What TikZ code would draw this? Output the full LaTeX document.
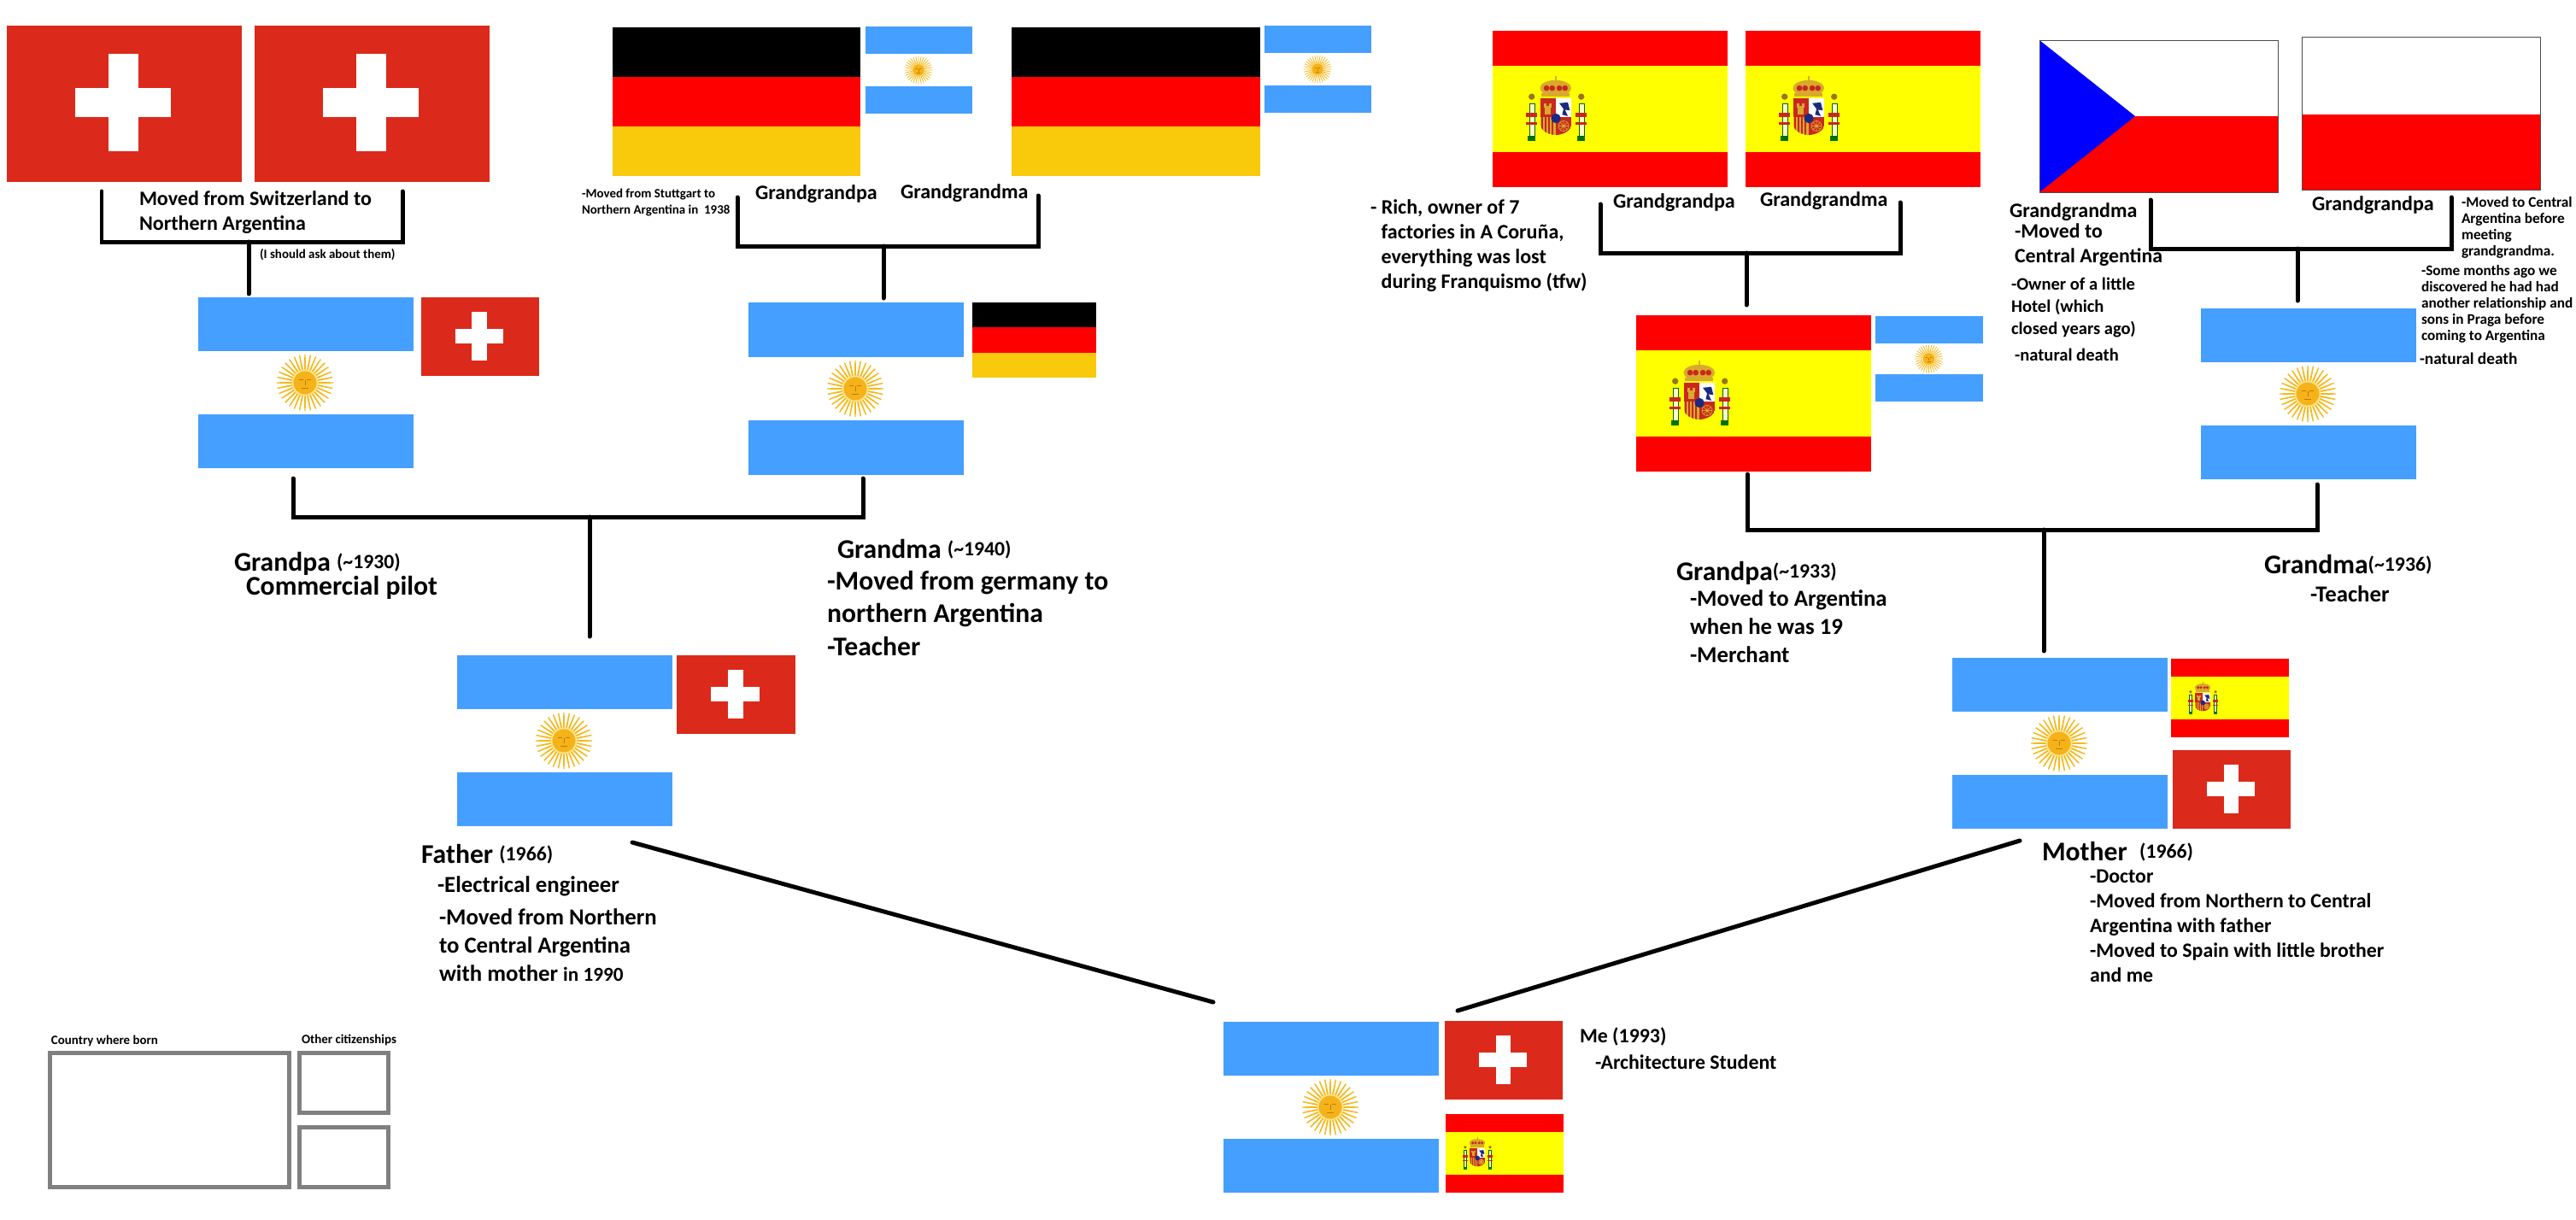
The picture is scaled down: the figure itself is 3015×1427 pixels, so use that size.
\documentclass[tikz,border=0pt]{standalone}
\usepackage{fontspec}
\setmainfont{Carlito}
\definecolor{swissred}{HTML}{DB2A1B}
\definecolor{argblue}{HTML}{459FFF}
\definecolor{sungold}{HTML}{F5B81C}
\definecolor{sunpale}{HTML}{FBE38A}
\definecolor{sunline}{HTML}{B97C0E}
\definecolor{gergold}{HTML}{F9C90B}
\definecolor{purered}{HTML}{FF0000}
\definecolor{pureyellow}{HTML}{FFFF00}
\definecolor{pureblue}{HTML}{0000FF}
\definecolor{armsred}{HTML}{C8281E}
\definecolor{armsgold}{HTML}{D9A92E}
\definecolor{armsblue}{HTML}{1B2A80}
\tikzset{
  flagbox/.style={inner sep=0pt,outer sep=0pt},
  famline/.style={line width=1.42pt,line cap=round,line join=miter},
  keybox/.style={flagbox,draw=gray,line width=1.42pt},
  lbl/.style={anchor=west,inner sep=0pt,outer sep=0pt,align=left,font=\bfseries\fontsize{6.83pt}{8.25pt}\selectfont},
  lblkey/.style={lbl,font=\bfseries\fontsize{4.25pt}{5.2pt}\selectfont},
  lblsm/.style={lbl,font=\bfseries\fontsize{4.9pt}{5.4pt}\selectfont},
  lblnat/.style={lbl,font=\bfseries\fontsize{5.5pt}{6.6pt}\selectfont},
  lblown/.style={lbl,font=\bfseries\fontsize{5.85pt}{7.4pt}\selectfont},
  lblmid/.style={lbl,font=\bfseries\fontsize{6.78pt}{8.25pt}\selectfont},
  lblbig/.style={lbl,font=\bfseries\fontsize{7.62pt}{9.4pt}\selectfont},
  lblhead/.style={lbl,font=\bfseries\fontsize{9pt}{10.95pt}\selectfont},
}
\newcommand\yr[1]{{\fontsize{6.75pt}{8pt}\selectfont\raisebox{.9pt}{#1}}}
\newcommand\flagnode[5]{%
  \pgfmathsetmacro\fw{(#4-#2)*.01}\pgfmathsetmacro\fh{(#5-#3)*.01}%
  \node[flagbox,minimum width=\fw cm,minimum height=\fh cm](#1) at ({(#2+#4)/2},{(#3+#5)/2}){};}
\newcommand\sunat[3]{%
  \begin{scope}[shift={(#1,#2)},scale=#3]
    \foreach \a in {0,11.25,...,349}{\fill[sungold]({\a-4.8}:.38)--({\a-1.2}:1)--({\a+1.2}:1)--({\a+4.8}:.38)--cycle;}
    \fill[sunpale](0,0) circle(.47);
    \fill[sungold!90!orange](0,0) circle(.41);
    \draw[sunline,line width=.2pt](-.2,-.1)--(-.07,-.1)(.07,-.1)--(.2,-.1)(0,-.08)--(0,.1)(-.12,.2)--(.12,.2);
  \end{scope}}
\newcommand\armsat[3]{%
  \begin{scope}[shift={(#1,#2)},scale=#3,shift={(-122,-145)}]
    \foreach \x in {38,212}{
      \fill[green!45!black](\x-14,240) rectangle (\x+14,258);
      \fill[yellow!20!white,draw=green!40!black,line width=.1pt](\x-9,125) rectangle (\x+9,240);
      \fill[armsgold!70!black](\x,102) circle(11);
      \fill[armsred](\x-20,158) rectangle (\x+20,172);
      \fill[armsred](\x-20,190) rectangle (\x+20,200);
    }
    \fill[armsgold](122,72) ellipse(55 and 28);
    \foreach \x in {90,110,135,155}{\fill[armsred](\x,72) circle(10);}
    \fill[armsgold](72,88) rectangle (172,102);
    \fill[armsgold](119,30) rectangle (125,50);
    \begin{scope}
      \clip(68,108)--(178,108)--(178,195) .. controls (178,225) and (145,235) .. (123,237) .. controls (100,235) and (68,225) .. (68,195)--cycle;
      \fill[armsred](68,108) rectangle (123,172);
      \fill[white](123,108) rectangle (178,172);
      \fill[armsgold](68,172) rectangle (123,240);
      \foreach \x in {72,84,96,108}{\fill[armsred](\x,172) rectangle (\x+7,240);}
      \fill[armsred](123,172) rectangle (178,240);
      \fill[armsgold](85,135) rectangle (105,165);
      \fill[armsgold](82,125) rectangle (90,140);
      \fill[armsgold](100,125) rectangle (108,140);
      \fill[armsblue](135,125)--(165,122)--(172,150)--(155,148)--(165,170)--(145,165)--(150,145)--cycle;
      \draw[armsgold,line width=.2pt](150,205) circle(18);
      \draw[armsgold,line width=.2pt](132,205)--(168,205)(150,187)--(150,223)(138,193)--(162,217)(138,217)--(162,193);
    \end{scope}
    \fill[armsblue](123,178) circle(17);
  \end{scope}}
\newcommand\swissflag[5]{\flagnode{#1}{#2}{#3}{#4}{#5}%
  \begin{scope}[shift={(#2,#3)},xscale={#4-#2},yscale={#5-#3}]
    \fill[swissred](0,0) rectangle (1,1);
    \fill[white](.291,.40) rectangle (.699,.586);
    \fill[white](.431,.182) rectangle (.559,.804);
  \end{scope}}
\newcommand\argflag[5]{\flagnode{#1}{#2}{#3}{#4}{#5}%
  \begin{scope}[shift={(#2,#3)},xscale={#4-#2},yscale={#5-#3}]
    \fill[argblue](0,0) rectangle (1,.315);
    \fill[argblue](0,.683) rectangle (1,1);
  \end{scope}
  \sunat{{#2+.496*(#4-#2)}}{{(#3+#5)/2}}{{.131*(#4-#2)}}}
\newcommand\spainflag[5]{\flagnode{#1}{#2}{#3}{#4}{#5}%
  \begin{scope}[shift={(#2,#3)},xscale={#4-#2},yscale={#5-#3}]
    \fill[purered](0,0) rectangle (1,1);
    \fill[pureyellow](0,.225) rectangle (1,.775);
  \end{scope}
  \armsat{{#2+.268*(#4-#2)}}{{(#3+#5)/2}}{{(#4-#2)/825}}}
\newcommand\gerflag[5]{\flagnode{#1}{#2}{#3}{#4}{#5}%
  \begin{scope}[shift={(#2,#3)},xscale={#4-#2},yscale={#5-#3}]
    \fill[black](0,0) rectangle (1,1/3);
    \fill[purered](0,1/3) rectangle (1,2/3);
    \fill[gergold](0,2/3) rectangle (1,1);
  \end{scope}}
\begin{document}
\begin{tikzpicture}[x=.01cm,y=-.01cm]
\useasboundingbox (0,0) rectangle (3015,1427);
% great grandparents
\swissflag{F1}{8}{30}{283}{213}
\swissflag{F2}{298}{30}{573}{213}
\gerflag{F3}{717}{32}{1007}{206}
\argflag{F4}{1013}{31}{1138}{133}
\gerflag{F5}{1184}{32}{1475}{206}
\argflag{F6}{1480}{30}{1605}{132}
\spainflag{F7}{1747}{36}{2022}{219}
\spainflag{F8}{2043}{36}{2318}{219}
% these two have a thin frame
\flagnode{F9}{2387}{47}{2666}{225}
\fill[purered](2387,136) rectangle (2666,225);
\fill[pureblue](2387,47)--(2499,136)--(2387,225)--cycle;
\draw[black!70,line width=.2pt](F9.south west) rectangle (F9.north east);
\flagnode{F10}{2694}{43}{2973}{222}
\fill[purered](2694,134) rectangle (2973,222);
\draw[black!70,line width=.2pt](F10.south west) rectangle (F10.north east);
% grandparents
\argflag{G1}{232}{348}{484}{548}
\swissflag{G2}{493}{348}{631}{440}
\argflag{G3}{876}{354}{1128}{556}
\gerflag{G4}{1138}{354}{1283}{442}
\spainflag{G5}{1915}{369}{2190}{552}
\argflag{G6}{2195}{370}{2321}{470}
\argflag{G7}{2576}{361}{2828}{561}
% parents and me
\argflag{P1}{535}{767}{787}{967}
\swissflag{P2}{792}{767}{931}{859}
\argflag{P3}{2285}{770}{2537}{970}
\spainflag{P4}{2541}{771}{2679}{863}
\swissflag{P5}{2543}{878}{2681}{970}
\argflag{M1}{1432}{1196}{1684}{1396}
\swissflag{M2}{1691}{1195}{1829}{1287}
\spainflag{M3}{1692}{1304}{1830}{1396}

\coordinate(A1) at (119,224);\coordinate(A2) at (119,283);\coordinate(A3) at (471,283);\coordinate(A4) at (471,224);
\coordinate(A5) at (291,283);\coordinate(A6) at (291,344);
\coordinate(B1) at (863,231);\coordinate(B2) at (863,288);\coordinate(B3) at (1215,288);\coordinate(B4) at (1215,229);
\coordinate(B5) at (1034,288);\coordinate(B6) at (1034,349);
\coordinate(C1) at (1873,239);\coordinate(C2) at (1873,296);\coordinate(C3) at (2224,296);\coordinate(C4) at (2224,237);
\coordinate(C5) at (2044,296);\coordinate(C6) at (2044,357);
\coordinate(D1) at (2517,234);\coordinate(D2) at (2517,291);\coordinate(D3) at (2869,291);\coordinate(D4) at (2869,231);
\coordinate(D5) at (2689,291);\coordinate(D6) at (2689,352);
\coordinate(E1) at (343,560);\coordinate(E2) at (343,605);\coordinate(E3) at (1010,605);\coordinate(E4) at (1010,560);
\coordinate(E5) at (690,605);\coordinate(E6) at (690,745);
\coordinate(H1) at (2045,555);\coordinate(H2) at (2045,620);\coordinate(H3) at (2712,620);\coordinate(H4) at (2712,567);
\coordinate(H5) at (2392,620);\coordinate(H6) at (2392,762);
\coordinate(J1) at (740,986);\coordinate(J2) at (1420,1173);
\coordinate(J3) at (2364,984);\coordinate(J4) at (1706,1183);

\draw[famline](A1)--(A2)--(A3)--(A4);
\draw[famline](A5)--(A6);
\draw[famline](B1)--(B2)--(B3)--(B4);
\draw[famline](B5)--(B6);
\draw[famline](C1)--(C2)--(C3)--(C4);
\draw[famline](C5)--(C6);
\draw[famline](D1)--(D2)--(D3)--(D4);
\draw[famline](D5)--(D6);
\draw[famline](E1)--(E2)--(E3)--(E4);
\draw[famline](E5)--(E6);
\draw[famline](H1)--(H2)--(H3)--(H4);
\draw[famline](H5)--(H6);
\draw[famline](J1)--(J2);
\draw[famline](J3)--(J4);

% key
\node[keybox,minimum width=28mm,minimum height=15.7mm](K1) at (198.5,1311){};
\node[keybox,minimum width=10.4mm,minimum height=7mm](K2) at (402.5,1267.5){};
\node[keybox,minimum width=10.4mm,minimum height=7mm](K3) at (402.5,1354.5){};
\node[lblkey](K4) at (60,1218){Country where born};
\node[lblkey](K5) at (353,1217){Other citizenships};

\node[lbl](T1) at (163,249){Moved from Switzerland to\\Northern Argentina};
\node[lblkey](T2) at (304,298){(I should ask about them)};
\node[lblkey](T3) at (681,237){-Moved from Stuttgart to\\Northern Argentina in~~1938};
\node[lbl](T4) at (884,227){Grandgrandpa};
\node[lbl](T5) at (1054,226){Grandgrandma};
\node[lbl](T6) at (1604,288){- Rich, owner of 7\\\hspace*{3.6pt}factories in A Coruña,\\\hspace*{3.6pt}everything was lost\\\hspace*{3.6pt}during Franquismo (tfw)};
\node[lbl](T7) at (1888,237){Grandgrandpa};
\node[lbl](T8) at (2060,235){Grandgrandma};
\node[lbl](T9) at (2352,248){Grandgrandma};
\node[lblmid](T10) at (2358,287){-Moved to\\Central Argentina};
\node[lblown](T11) at (2354,360){-Owner of a little\\Hotel (which\\closed years ago)};
\node[lblown](T12) at (2358,415){-natural death};
\node[lbl](T13) at (2706,240){Grandgrandpa};
\node[lblsm](T14) at (2881,266){-Moved to Central\\Argentina before\\meeting\\grandgrandma.};
\node[lblsm](T15) at (2834,356){-Some months ago we\\discovered he had had\\another relationship and\\sons in Praga before\\coming to Argentina};
\node[lblnat](T16) at (2832,420){-natural death};

\node[lblhead](U1) at (274,660){Grandpa \yr{(\textasciitilde1930)}};
\node[lblhead](U2) at (288,688){Commercial pilot};
\node[lblhead](U3) at (980,643){Grandma \yr{(\textasciitilde1940)}};
\node[lblhead](U4) at (968,718){-Moved from germany to\\northern Argentina\\-Teacher};
\node[lblhead](U5) at (1962,671){Grandpa\yr{(\textasciitilde1933)}};
\node[lblbig](U6) at (1978,733){-Moved to Argentina\\when he was 19\\-Merchant};
\node[lblhead](U7) at (2650,661){Grandma\yr{(\textasciitilde1936)}};
\node[lblbig](U8) at (2704,695){-Teacher};

\node[lblhead](V1) at (493,1000){Father \yr{(1966)}};
\node[lblbig](V2) at (512,1037){-Electrical engineer};
\node[lblbig](V3) at (514,1106){-Moved from Northern\\to Central Argentina\\with mother {\fontsize{6.6pt}{8pt}\selectfont in 1990}};
\node[lblhead](V4) at (2390,997){Mother~~\yr{(1966)}};
\node[lblmid](V5) at (2446,1084){-Doctor\\-Moved from Northern to Central\\Argentina with father\\-Moved to Spain with little brother\\and me};
\node[lblmid](W1) at (1849,1213){Me (1993)};
\node[lblmid](W2) at (1867,1243){-Architecture Student};
\end{tikzpicture}
\end{document}
